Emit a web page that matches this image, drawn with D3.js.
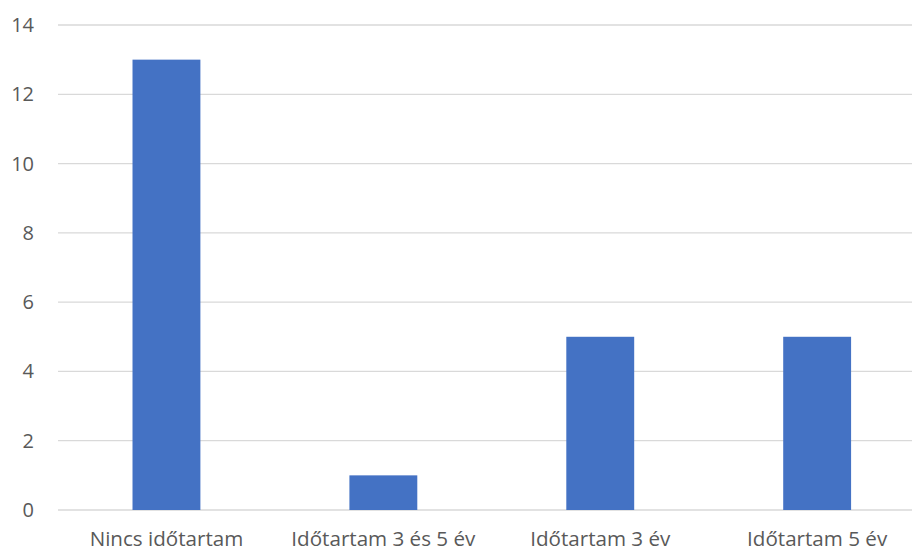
<!DOCTYPE html>
<html>
<head>
<meta charset="utf-8">
<script src="https://cdn.jsdelivr.net/npm/d3@7"></script>
<style>
  body { margin: 0; background: #fff; }
  text { font-family: "Open Sans", sans-serif; fill: #595959; }
</style>
</head>
<body>
<svg id="chart" width="912" height="548"></svg>
<script>
// chart data
const categories = ["Nincs időtartam", "Időtartam 3 és 5 év", "Időtartam 3 év", "Időtartam 5 év"];
const values = [13, 1, 5, 5];
const yTicks = [0, 2, 4, 6, 8, 10, 12, 14];

const svg = d3.select("#chart");

// plot area
let plotLeft = 58, plotRight = 925.6, plotTop = 25, plotBottom = 510;

let xScale = d3.scaleBand()
  .domain(categories)
  .range([plotLeft, plotRight])
  .paddingInner(0.687)
  .paddingOuter(0.3435);

let yScale = d3.scaleLinear()
  .domain([0, 14])
  .range([plotBottom, plotTop]);

// gridlines
svg.append("g")
  .selectAll("line")
  .data(yTicks)
  .enter()
  .append("line")
  .attr("x1", plotLeft)
  .attr("x2", 912)
  .attr("y1", d => yScale(d))
  .attr("y2", d => yScale(d))
  .attr("stroke", "#d9d9d9")
  .attr("stroke-width", 1.3);

// y labels
svg.append("g")
  .selectAll("text")
  .data(yTicks)
  .enter()
  .append("text")
  .attr("x", 34)
  .attr("y", d => yScale(d))
  .attr("dy", "0.35em")
  .attr("text-anchor", "end")
  .style("font-size", "20px")
  .text(d => d);

// bars
svg.append("g")
  .selectAll("rect")
  .data(values)
  .enter()
  .append("rect")
  .attr("x", (d, i) => xScale(categories[i]))
  .attr("y", d => yScale(d))
  .attr("width", xScale.bandwidth())
  .attr("height", d => plotBottom - yScale(d))
  .attr("fill", "#4472c4");

// x labels
svg.append("g")
  .selectAll("text")
  .data(categories)
  .enter()
  .append("text")
  .attr("x", d => xScale(d) + xScale.bandwidth() / 2)
  .attr("y", 546)
  .attr("text-anchor", "middle")
  .style("font-size", "20.6px")
  .text(d => d);
</script>
</body>
</html>
